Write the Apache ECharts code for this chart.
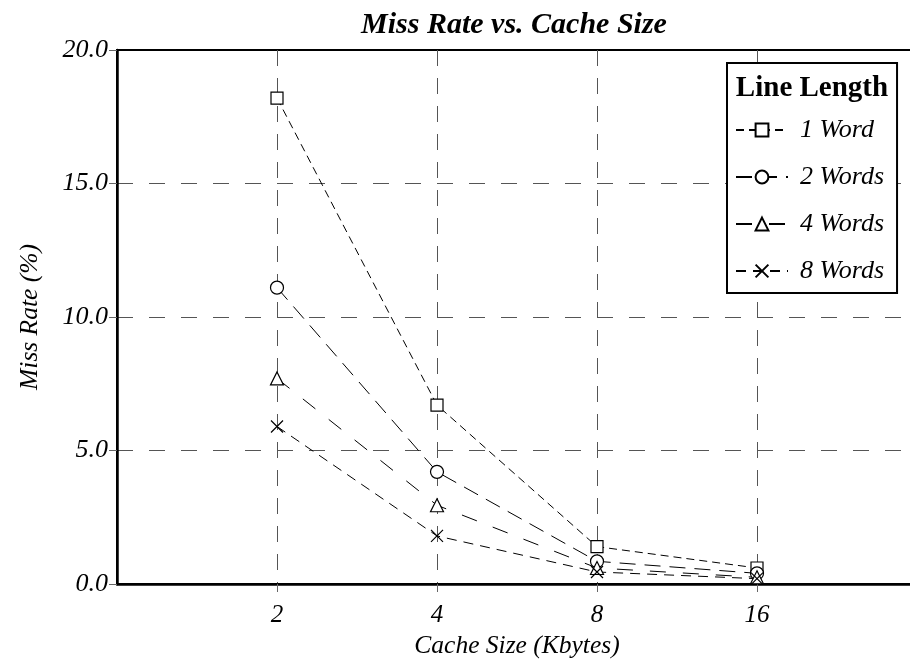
<!DOCTYPE html>
<html>
<head>
<meta charset="utf-8">
<script src="https://cdn.jsdelivr.net/npm/echarts@6/dist/echarts.min.js"></script>
<style>html,body{margin:0;padding:0;background:#fff}#c{width:910px;height:660px}</style>
</head>
<body>
<div id="c"></div>
<script>
const cacheSizes = [2, 4, 8, 16];
const seriesNames = ['1 Word', '2 Words', '4 Words', '8 Words'];
const oneWord = [18.2, 6.7, 1.4, 0.6];
const twoWords = [11.1, 4.2, 0.85, 0.4];
const fourWords = [7.7, 2.95, 0.6, 0.25];
const eightWords = [5.9, 1.8, 0.45, 0.2];
const yTicks = [0, 5, 10, 15, 20];

const FONT = '"Liberation Serif", "Times New Roman", serif';
const xMark = 'path://M0,0L10,10M10,0L0,10';

function pairs(vals) { return cacheSizes.map((c, i) => [c, vals[i]]); }

const styles = [
  { data: oneWord, symbol: 'rect', size: 12, dash: [8, 5] },
  { data: twoWords, symbol: 'circle', size: 13, dash: [16, 9] },
  { data: fourWords, symbol: 'triangle', size: 13, dash: [16, 17] },
  { data: eightWords, symbol: xMark, size: 12, dash: [10, 7] }
];

const chart = echarts.init(document.getElementById('c'), null, { renderer: 'canvas' });
chart.setOption({
  backgroundColor: '#fff',
  animation: false,
  textStyle: { fontFamily: FONT },
  title: [
    { text: 'Miss Rate vs. Cache Size', left: 514, textAlign: 'center', top: 10, padding: 0,
      textStyle: { fontFamily: FONT, fontSize: 30, fontWeight: 'bold', fontStyle: 'italic', color: '#000' } },
    { text: 'Line Length', left: 812, textAlign: 'center', top: 74, padding: 0, z: 10,
      textStyle: { fontFamily: FONT, fontSize: 29, fontWeight: 'bold', color: '#000' } }
  ],
  legend: {
    orient: 'vertical', left: 727, top: 63,
    padding: [54, 13, 9, 8],
    itemWidth: 52, itemHeight: 16, itemGap: 21,
    backgroundColor: '#fff', borderColor: '#000', borderWidth: 2,
    textStyle: { fontFamily: FONT, fontSize: 26, fontStyle: 'italic', color: '#000', padding: [0, 0, 0, 7] },
    data: seriesNames
  },
  grid: { left: 117, top: 50, width: 800, height: 534, outerBoundsMode: 'none', containLabel: false,
    show: true, borderColor: '#000', borderWidth: 2, backgroundColor: 'transparent' },
  xAxis: {
    type: 'log', logBase: 2, min: 1, max: 32,
    name: 'Cache Size (Kbytes)', nameLocation: 'middle', nameGap: 48,
    nameTextStyle: { fontFamily: FONT, fontSize: 25.5, fontStyle: 'italic', color: '#000' },
    axisLine: { lineStyle: { color: '#000', width: 2.5 } },
    axisTick: { length: 8, lineStyle: { color: '#666' } },
    axisLabel: { margin: 19, fontFamily: FONT, fontSize: 25, fontStyle: 'italic', color: '#000',
      showMinLabel: false, showMaxLabel: false,
      formatter: v => (v === 1 || v === 32) ? '' : String(v) },
    splitLine: { show: true, showMinLine: false, showMaxLine: false, lineStyle: { color: '#555', type: [16, 12], width: 1 } }
  },
  yAxis: {
    type: 'value', min: yTicks[0], max: yTicks[yTicks.length - 1], interval: 5,
    name: 'Miss Rate (%)', nameLocation: 'middle', nameGap: 74,
    nameTextStyle: { fontFamily: FONT, fontSize: 25.5, fontStyle: 'italic', color: '#000' },
    axisLine: { show: true, lineStyle: { color: '#000', width: 2.5 } },
    axisTick: { show: true, length: 8, lineStyle: { color: '#666' } },
    axisLabel: { margin: 9, fontFamily: FONT, fontSize: 26, fontStyle: 'italic', color: '#000',
      formatter: v => v.toFixed(1) },
    splitLine: { show: true, showMinLine: false, showMaxLine: false, lineStyle: { color: '#555', type: [16, 16], width: 1 } }
  },
  series: styles.map((s, i) => ({
    name: seriesNames[i], type: 'line', data: pairs(s.data),
    symbol: s.symbol, symbolSize: s.size, showAllSymbol: true,
    lineStyle: { color: '#000', width: 1, type: s.dash },
    itemStyle: { color: '#fff', borderColor: '#000', borderWidth: 1.2 },
    emphasis: { disabled: true }, z: 3
  }))
});
</script>
</body>
</html>
